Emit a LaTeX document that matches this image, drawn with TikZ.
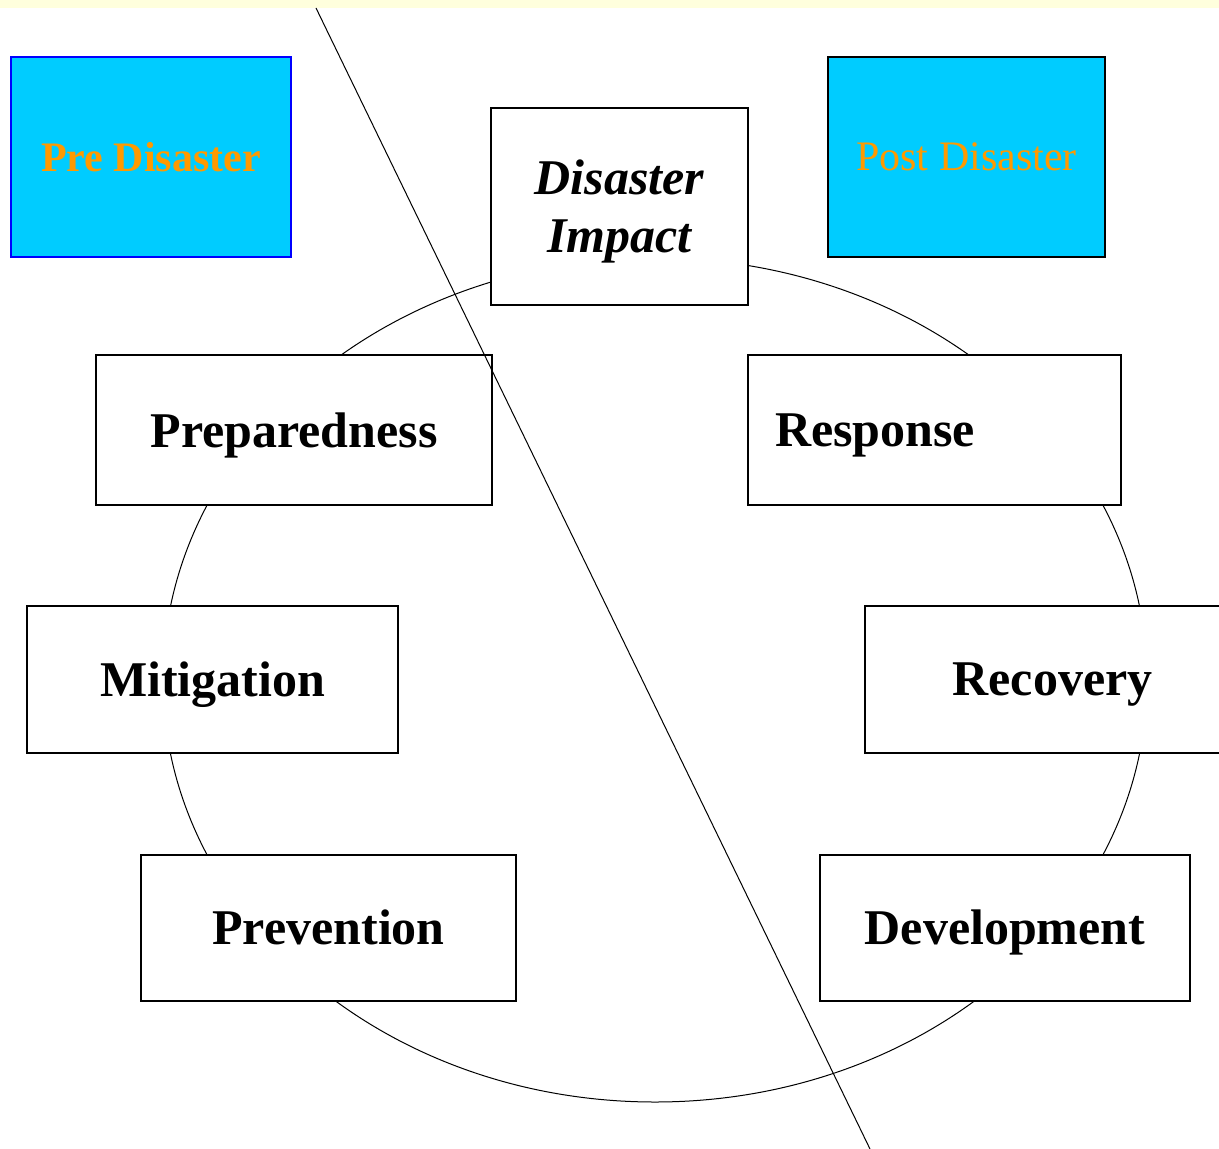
\documentclass[tikz,border=0pt]{standalone}
\usepackage{fontspec}
\setmainfont{Liberation Serif}
\definecolor{skyfill}{HTML}{00CCFF}
\definecolor{eraorange}{HTML}{FF9900}
\definecolor{topstrip}{HTML}{FFFFDD}
\newcommand{\stagefont}{\fontsize{25}{29}\selectfont\bfseries}
\begin{document}
\begin{tikzpicture}[x=0.5pt,y=-0.5pt,
		stage/.style={draw, fill=white, line width=1pt, inner sep=0pt, text depth=0pt, font=\stagefont},
		era/.style={fill=skyfill, line width=1pt, inner sep=0pt, text=eraorange, minimum height=100pt}]
			\useasboundingbox (0,0) rectangle (1219,1149);
			\fill [white] (0,0) rectangle (1219,1149);
			\fill [topstrip] (0,0) rectangle (1219,8);
			% the cycle
			\draw [line width=0.5pt] (655,680) ellipse [x radius=246pt, y radius=211pt];
			\node [era, draw=blue, minimum width=140pt, font=\fontsize{21}{25}\selectfont\bfseries] (pre) at (151,157) {Pre Disaster};
			\node [era, draw=black, minimum width=138.5pt, font=\fontsize{21}{25}\selectfont] (post) at (966.5,157) {Post Disaster};
			\node [stage, minimum width=128.5pt, minimum height=98.5pt, align=center, font=\stagefont\itshape] (impact) at (619.5,206.5) {Disaster\\Impact};
			\node [stage, minimum width=198pt, minimum height=75pt] (prep) at (294,430) {Preparedness};
			\node [stage, inner xsep=13.5pt, text width=159.5pt, align=left, minimum height=75pt] (resp) at (934.5,430) {Response};
			\node [stage, minimum width=185.5pt, minimum height=73.5pt] (mitig) at (212.5,679.5) {Mitigation};
			\node [stage, minimum width=187.5pt, minimum height=73.5pt] (recov) at (1052.5,679.5) {Recovery};
			\node [stage, minimum width=187.5pt, minimum height=73pt] (prev) at (328.5,927.5) {Prevention};
			\node [stage, minimum width=185pt, minimum height=73pt] (dev) at (1005,927.5) {Development};
			% pre / post divide
			\coordinate (cut top) at (316,8);
			\coordinate (cut bottom) at (870,1149);
			\draw [line width=0.5pt] (cut top) -- (cut bottom);
		\end{tikzpicture}
\end{document}
